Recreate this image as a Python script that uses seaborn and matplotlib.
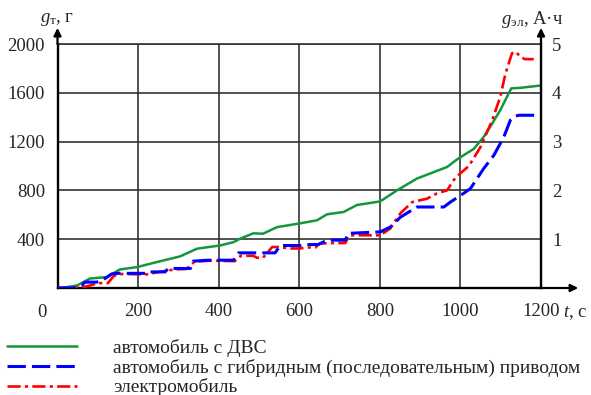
import matplotlib
matplotlib.use("Agg")
import matplotlib.pyplot as plt
import seaborn as sns

# fuel consumption of ICE car, g
t_ice = [0, 10, 48, 81, 122, 155, 197, 246, 304, 346, 404, 437, 453, 486, 510, 545, 602, 644, 669, 710,
         743, 801, 843, 892, 967, 992, 1033, 1058, 1079, 1099, 1126, 1149, 1200]
g_ice = [0, 0, 20, 78, 89, 152, 171, 212, 259, 322, 349, 376, 404, 448, 445, 499, 530, 555, 604, 623,
         680, 710, 801, 897, 992, 1055, 1140, 1239, 1349, 1458, 1636, 1641, 1660]

# hybrid (series) drive, A*h
t_hyb = [0, 40, 60, 68, 97, 110, 135, 150, 218, 222, 267, 275, 330, 337, 374, 437, 449, 540, 553, 602,
         615, 647, 669, 714, 722, 801, 826, 851, 892, 959, 975, 1008, 1025, 1058, 1083, 1108, 1124, 1135, 1145, 1200]
q_hyb = [0, 0, 0.05, 0.12, 0.12, 0.15, 0.29, 0.30, 0.30, 0.33, 0.33, 0.40, 0.40, 0.55, 0.57, 0.57, 0.72, 0.72, 0.87, 0.87,
         0.89, 0.89, 0.98, 0.98, 1.12, 1.15, 1.25, 1.45, 1.66, 1.66, 1.76, 1.94, 2.04, 2.45, 2.72, 3.10, 3.44, 3.52, 3.54, 3.54]

# electric car, A*h
t_ev = [0, 60, 80, 100, 125, 140, 163, 200, 230, 240, 290, 320, 340, 380, 440, 455, 486, 495, 510, 533,
        548, 578, 602, 615, 640, 650, 680, 714, 725, 801, 826, 851, 880, 917, 942, 967, 983, 1000, 1021, 1050,
        1079, 1099, 1112, 1128, 1137, 1149, 1160, 1182]
q_ev = [0, 0.01, 0.05, 0.10, 0.10, 0.25, 0.29, 0.28, 0.28, 0.31, 0.38, 0.39, 0.54, 0.56, 0.55, 0.66, 0.66, 0.62, 0.62, 0.84,
        0.84, 0.81, 0.81, 0.83, 0.83, 0.91, 0.92, 0.92, 1.08, 1.08, 1.22, 1.53, 1.76, 1.83, 1.94, 2.00, 2.21, 2.35, 2.50, 2.89,
        3.44, 3.92, 4.40, 4.81, 4.84, 4.74, 4.69, 4.69]

labels = ["автомобиль с ДВС",
          "автомобиль с гибридным (последовательным) приводом",
          "электромобиль"]
x_ticks = [200, 400, 600, 800, 1000, 1200]
y_ticks = [400, 800, 1200, 1600, 2000]
y2_ticks = [1, 2, 3, 4, 5]

sns.set_style("white")
plt.rcParams["font.family"] = ["Liberation Serif", "DejaVu Serif"]
plt.rcParams["mathtext.fontset"] = "custom"
plt.rcParams["mathtext.rm"] = "Liberation Serif"
plt.rcParams["mathtext.it"] = "Liberation Serif:italic"

fig = plt.figure(figsize=(5.91, 3.95), dpi=100)
ax = fig.add_axes([0.0973, 0.2709, 0.8181, 0.6177])

sns.lineplot(x=t_ice, y=g_ice, ax=ax, color="#14963c", lw=1.8, legend=False)
ax.set_xlim(0, 1200)
ax.set_ylim(0, 2000)
ax.set_xticks(x_ticks)
ax.set_yticks(y_ticks)
ax.grid(True, color="#333333", lw=1.2)
ax.tick_params(length=0, labelsize=13.5)
ax.tick_params(axis="x", pad=11)
ax.tick_params(axis="y", pad=9)
for s in ["left", "bottom"]:
    ax.spines[s].set_color("black")
    ax.spines[s].set_linewidth(1.7)
ax.spines["top"].set_color("#333333")
ax.spines["top"].set_linewidth(1.2)

ax2 = ax.twinx()
sns.lineplot(x=t_ev, y=q_ev, ax=ax2, color="#ff0000", lw=1.9, legend=False,
             linestyle=(0, (5, 1.6, 1.2, 1.6)))
sns.lineplot(x=t_hyb, y=q_hyb, ax=ax2, color="#0000ff", lw=2.2, legend=False,
             linestyle=(0, (6, 2)))
ax2.set_ylim(0, 5)
ax2.set_yticks(y2_ticks)
ax2.tick_params(length=0, labelsize=13.5, pad=8)
ax2.spines["right"].set_color("black")
ax2.spines["right"].set_linewidth(1.7)
for s in ["top", "left", "bottom"]:
    ax2.spines[s].set_visible(False)
ax2.set_ylabel("")
ax.set_ylabel("")

# axis arrows
arr = dict(arrowstyle="-|>", color="black", lw=1.6, mutation_scale=11, shrinkA=0, shrinkB=0)
ax.annotate("", xy=(0, 1.066), xytext=(0, 1.0), xycoords="axes fraction", arrowprops=arr, annotation_clip=False)
ax.annotate("", xy=(1, 1.066), xytext=(1, 1.0), xycoords="axes fraction", arrowprops=arr, annotation_clip=False)
ax.annotate("", xy=(1.077, 0), xytext=(1, 0), xycoords="axes fraction", arrowprops=arr, annotation_clip=False)

ax.text(-0.032, -0.102, "0", transform=ax.transAxes, ha="center", va="center", fontsize=13.5)
ax.text(1.07, -0.102, "$t$, с", transform=ax.transAxes, ha="center", va="center", fontsize=13.5)
ax.text(0.0, 1.10, r"$g_\mathrm{т}$, г", transform=ax.transAxes, ha="center", va="center", fontsize=13.5)
ax.text(0.981, 1.10, r"$g_\mathrm{эл}$, А·ч", transform=ax.transAxes, ha="center", va="center", fontsize=13.5)

handles = ax.get_lines()[:1] + ax2.get_lines()[1:2] + ax2.get_lines()[0:1]
fig.legend(handles, labels, loc="upper left", bbox_to_anchor=(0.012, 0.143), frameon=False,
           fontsize=14, handlelength=3.6, handletextpad=1.85, labelspacing=0.1,
           borderaxespad=0, borderpad=0)

fig.savefig("out.png", dpi=100)
